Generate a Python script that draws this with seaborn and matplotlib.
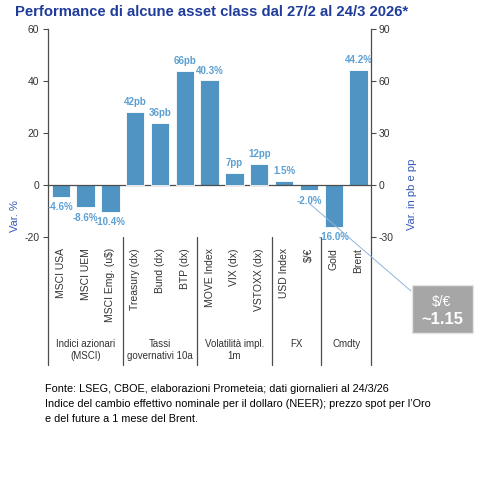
import numpy as np
import pandas as pd
import matplotlib
matplotlib.use("Agg")
import matplotlib.pyplot as plt
import matplotlib.transforms as mtrans
from matplotlib.patches import Rectangle
from matplotlib.lines import Line2D
import seaborn as sns

sns.set_style("white")
plt.rcParams['font.family'] = ['Liberation Sans', 'DejaVu Sans']
plt.rcParams['axes.unicode_minus'] = False

# data
categories = ["MSCI USA", "MSCI UEM", "MSCI Emg. (u$)", "Treasury (dx)", "Bund (dx)",
              "BTP (dx)", "MOVE Index", "VIX (dx)", "VSTOXX (dx)", "USD Index",
              "$/€", "Gold", "Brent"]
values = [-4.6, -8.6, -10.4, 42, 36, 66, 40.3, 7, 12, 1.5, -2.0, -16.0, 44.2]
units = ["%", "%", "%", "pb", "pb", "pb", "%", "pp", "pp", "%", "%", "%", "%"]
groups = ["Indici azionari\n(MSCI)", "Tassi\ngovernativi 10a", "Volatilità impl.\n1m", "FX", "Cmdty"]
group_sizes = [3, 3, 3, 2, 2]
left_ticks = [-20, 0, 20, 40, 60]
right_ticks = [-30, 0, 30, 60, 90]

df = pd.DataFrame({"cat": categories, "val": values, "unit": units})
df["side"] = np.where(df.unit == "%", "left", "right")

bar_col = "#4F94C2"
lab_col = "#5B9FD3"
axis_col = "#4D4D4D"
blue_txt = "#3558B8"

fig = plt.figure(figsize=(4.8, 4.8), dpi=100)
ax = fig.add_axes([0.1006, 0.50625, 0.6723, 0.4333])
ax2 = ax.twinx()

sns.barplot(data=df[df.side == "left"], x="cat", y="val", order=categories, ax=ax,
            color=bar_col, saturation=1, width=0.74, errorbar=None,
            edgecolor="white", linewidth=0.6)
sns.barplot(data=df[df.side == "right"], x="cat", y="val", order=categories, ax=ax2,
            color=bar_col, saturation=1, width=0.74, errorbar=None,
            edgecolor="white", linewidth=0.6)

ax.set_xlim(-0.5, len(categories) - 0.5)
ax.set_ylim(-20, 60)
ax2.set_ylim(-30, 90)
ax.set_yticks(left_ticks)
ax2.set_yticks(right_ticks)
ax.set_xlabel("")
ax.set_ylabel("")
ax2.set_xlabel("")
ax2.set_ylabel("")

for a in (ax, ax2):
    for s in a.spines.values():
        s.set_visible(False)
ax.spines["left"].set_visible(True)
ax.spines["left"].set_color(axis_col)
ax.spines["left"].set_linewidth(0.9)
ax2.spines["right"].set_visible(True)
ax2.spines["right"].set_color(axis_col)
ax2.spines["right"].set_linewidth(0.9)
ax.axhline(0, color=axis_col, lw=0.9, zorder=5)

ax.tick_params(axis="y", direction="out", length=3.5, width=0.8, color=axis_col,
               labelsize=7.5, labelcolor="#333333", pad=3, left=True)
ax2.tick_params(axis="y", direction="out", length=3.5, width=0.8, color=axis_col,
                labelsize=7.5, labelcolor="#333333", pad=2, right=True)
ax.tick_params(axis="x", length=0, pad=8, labelsize=7.5, labelcolor="#333333")
ax.set_xticks(range(len(categories)))
ax.set_xticklabels(categories, rotation=90, va="top", ha="center")

# value labels
for i, (v, u) in enumerate(zip(values, units)):
    target = ax if u == "%" else ax2
    txt = f"{v:.1f}%" if u == "%" else f"{v:g}{u}"
    off = 7 if v >= 0 else -7.5
    target.annotate(txt, (i, v), xytext=(0, off), textcoords="offset points",
                    ha="center", va="center", color=lab_col, fontsize=7,
                    fontweight="bold", zorder=6)

# group separators and group labels
trans = mtrans.blended_transform_factory(ax.transData, ax.transAxes)
bounds = np.concatenate([[0], np.cumsum(group_sizes)]) - 0.5
for b in bounds:
    ax.add_line(Line2D([b, b], [0, -0.615], transform=trans, color=axis_col,
                       lw=0.9, clip_on=False))
for name, lo, hi in zip(groups, bounds[:-1], bounds[1:]):
    ax.text((lo + hi) / 2, -0.49, name, transform=trans, ha="center", va="top",
            fontsize=7, color="#333333", linespacing=1.25)

# axis titles
fig.text(15 / 480, 1 - 216 / 480, "Var. %", rotation=90, ha="center", va="center",
         fontsize=8, color=blue_txt)
fig.text(412 / 480, 1 - 194 / 480, "Var. in pb e pp", rotation=90, ha="center",
         va="center", fontsize=8, color=blue_txt)

# title
fig.text(15 / 480, 1 - 12 / 480, "Performance di alcune asset class dal 27/2 al 24/3 2026*",
         ha="left", va="center", fontsize=10.7, fontweight="bold", color="#1F3C9A")

# callout for $/€
fig.add_artist(Line2D([310 / 480, 411 / 480], [1 - 204 / 480, 1 - 291 / 480],
                      transform=fig.transFigure, color="#8FB4DC", lw=0.7))
fig.add_artist(Rectangle((412 / 480, 1 - 333 / 480), 61 / 480, 48 / 480,
                         transform=fig.transFigure, facecolor="#A6A6A6",
                         edgecolor="#E6E6E6", lw=1))
fig.text(442 / 480, 1 - 302 / 480, "$/€", ha="center", va="center", fontsize=10,
         color="white")
fig.text(442 / 480, 1 - 320 / 480, "~1.15", ha="center", va="center", fontsize=12,
         fontweight="bold", color="white")

# footnote
notes = ["Fonte: LSEG, CBOE, elaborazioni Prometeia; dati giornalieri al 24/3/26",
         "Indice del cambio effettivo nominale per il dollaro (NEER); prezzo spot per l’Oro",
         "e del future a 1 mese del Brent."]
for k, line in enumerate(notes):
    fig.text(45 / 480, 1 - (389 + 15 * k) / 480, line, ha="left", va="center",
             fontsize=7.8, color="black")

fig.savefig("out.png", dpi=100)
